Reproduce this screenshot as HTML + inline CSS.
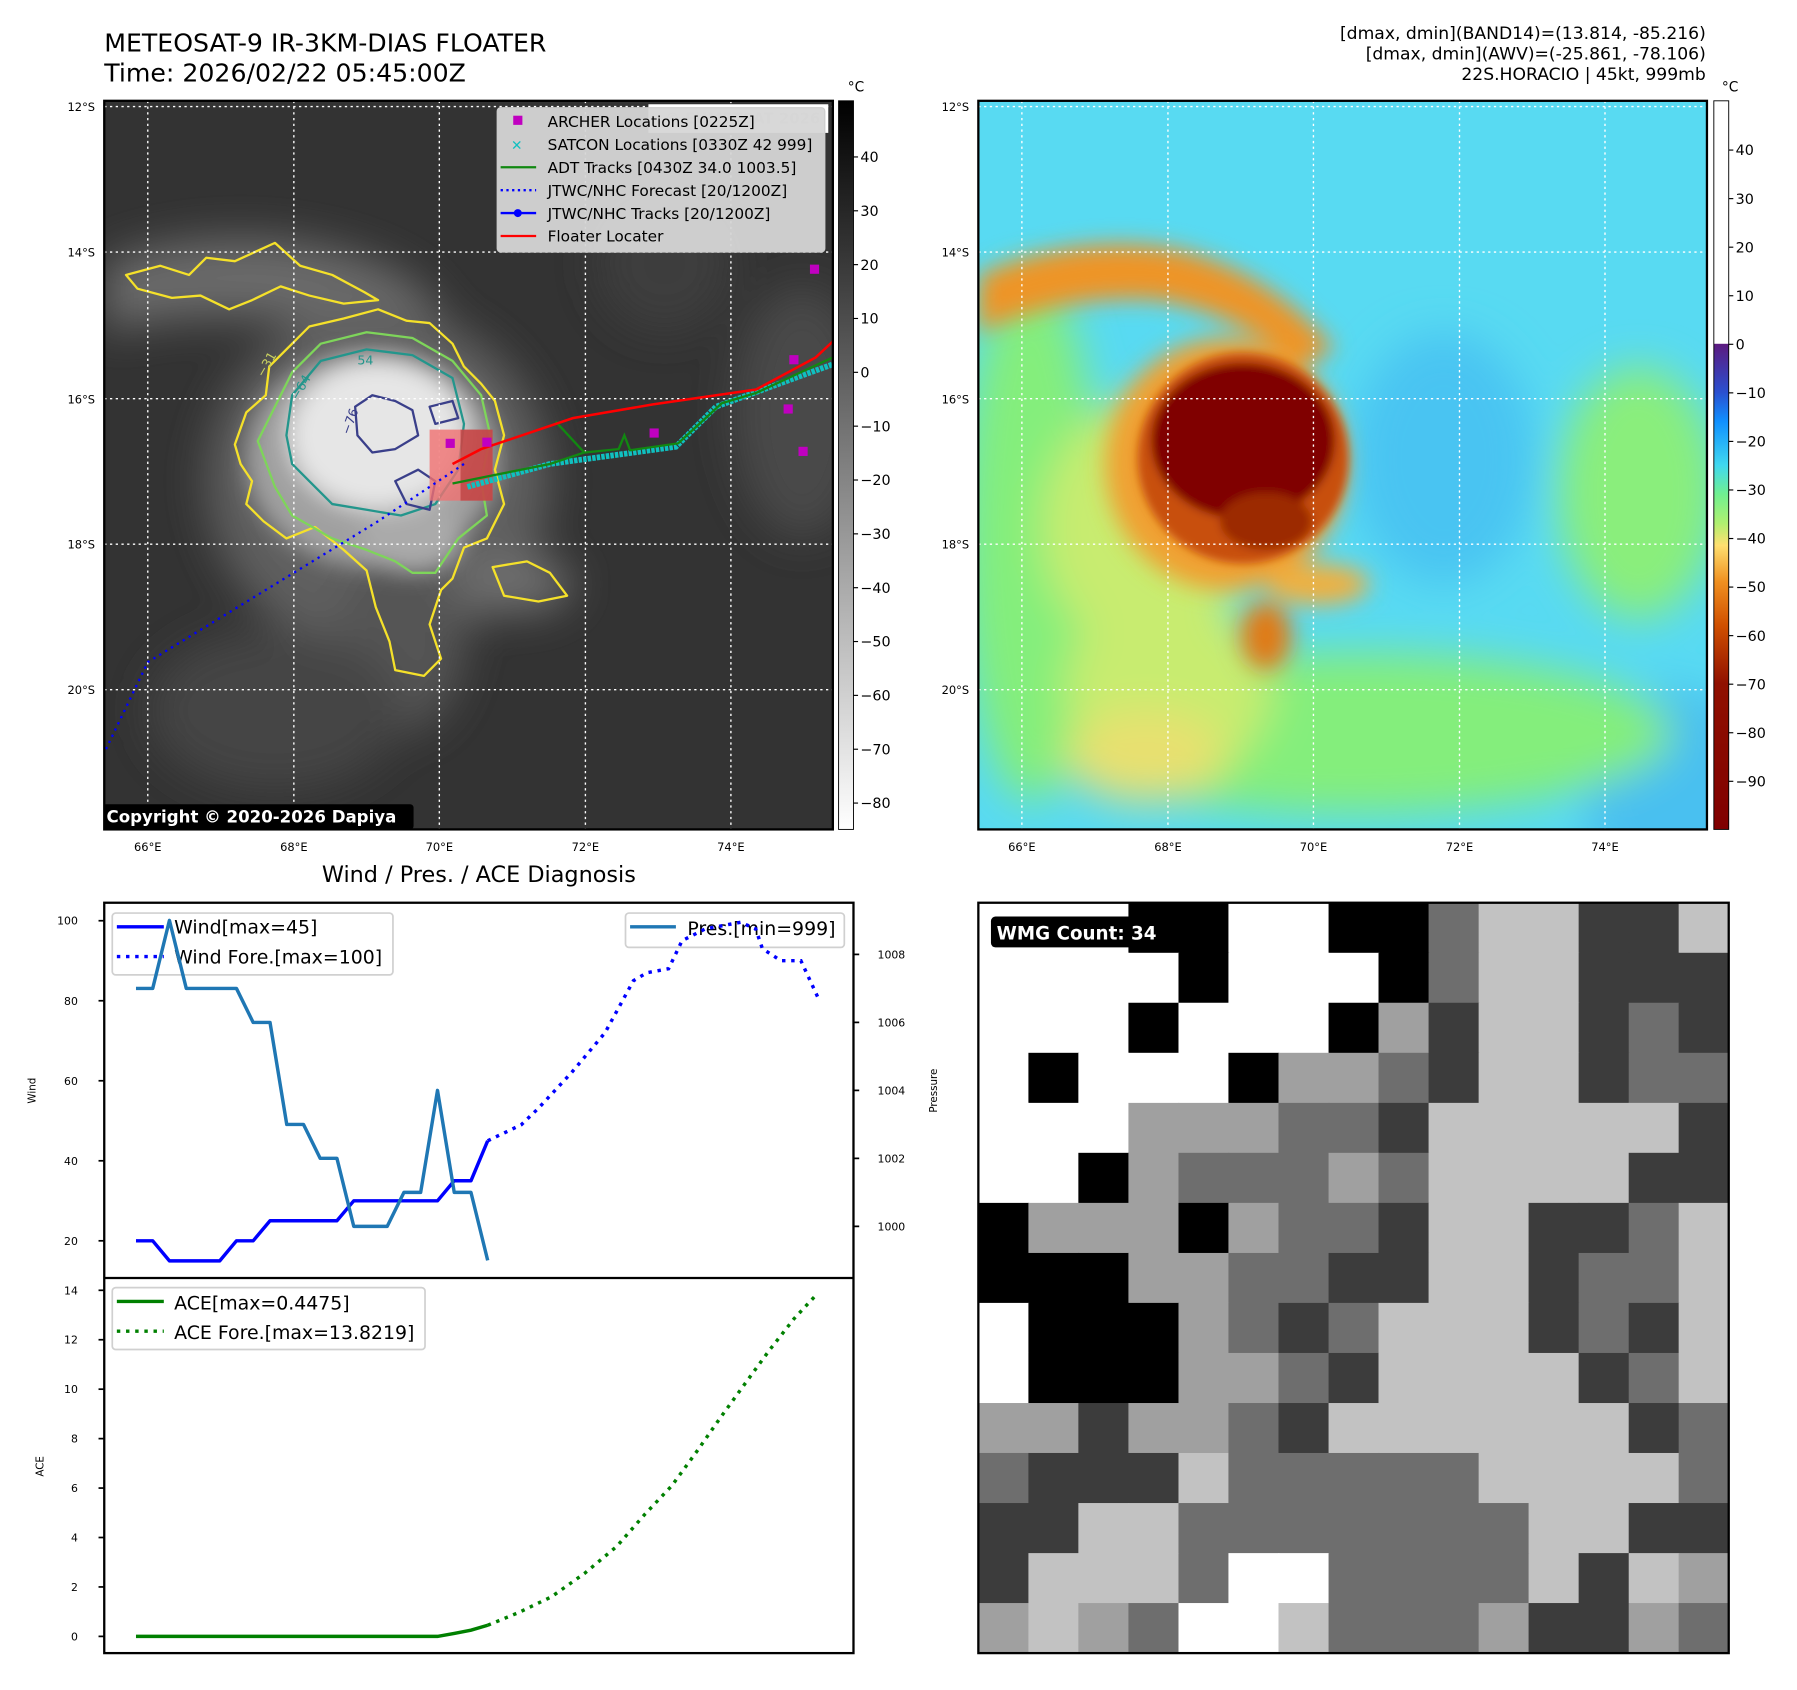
<!DOCTYPE html>
<html><head><meta charset="utf-8"><style>
html,body{margin:0;padding:0;background:#fff;}
svg{display:block;font-family:"DejaVu Sans","Liberation Sans",sans-serif;}
</style></head><body>
<svg id="root" width="1797" height="1690" viewBox="0 0 1568.6 1475.2" xmlns="http://www.w3.org/2000/svg">
<defs>
<filter id="b4"><feGaussianBlur stdDeviation="4"/></filter>
<filter id="b10"><feGaussianBlur stdDeviation="10"/></filter>
<filter id="b18"><feGaussianBlur stdDeviation="18"/></filter>
<clipPath id="c1"><rect x="91" y="88" width="636" height="636"/></clipPath>
<clipPath id="c2"><rect x="854" y="88" width="636" height="636"/></clipPath>
<clipPath id="c3"><rect x="854" y="788" width="655" height="655"/></clipPath>
<linearGradient id="gcb1" x1="0" y1="0" x2="0" y2="1"><stop offset="0" stop-color="#000"/><stop offset="1" stop-color="#fff"/></linearGradient>
<linearGradient id="gcb2" x1="0" y1="0" x2="0" y2="1">
<stop offset="0" stop-color="#fff"/><stop offset="0.333" stop-color="#fff"/>
<stop offset="0.334" stop-color="#5c1a80"/><stop offset="0.40" stop-color="#2a50d0"/>
<stop offset="0.44" stop-color="#1090ff"/><stop offset="0.50" stop-color="#40d8f0"/>
<stop offset="0.54" stop-color="#70f090"/><stop offset="0.58" stop-color="#b0f070"/>
<stop offset="0.61" stop-color="#ffe070"/><stop offset="0.66" stop-color="#f09020"/>
<stop offset="0.72" stop-color="#d05000"/><stop offset="0.80" stop-color="#901000"/>
<stop offset="1" stop-color="#800000"/></linearGradient>
</defs>

<!-- titles -->
<text x="91" y="45" font-size="22">METEOSAT-9 IR-3KM-DIAS FLOATER</text>
<text x="91" y="71" font-size="22">Time: 2026/02/22 05:45:00Z</text>
<g font-size="15" text-anchor="end">
<text x="1489" y="34">[dmax, dmin](BAND14)=(13.814, -85.216)</text>
<text x="1489" y="52">[dmax, dmin](AWV)=(-25.861, -78.106)</text>
<text x="1489" y="70">22S.HORACIO | 45kt, 999mb</text>
</g>

<!-- LEFT MAP -->
<g clip-path="url(#c1)">
<rect x="91" y="88" width="636" height="636" fill="#333"/>
<g filter="url(#b18)">
<path d="M91,230 C160,200 260,200 330,230 C380,250 400,290 380,300 C300,290 200,260 91,290Z" fill="#6a6a6a"/>
<ellipse cx="330" cy="420" rx="150" ry="150" fill="#5e5e5e"/>
<ellipse cx="350" cy="560" rx="55" ry="80" fill="#555"/>
<ellipse cx="450" cy="510" rx="50" ry="25" fill="#707070"/>
<ellipse cx="700" cy="360" rx="60" ry="110" fill="#4a4a4a"/>
<ellipse cx="240" cy="620" rx="110" ry="70" fill="#444"/>
<ellipse cx="580" cy="230" rx="60" ry="60" fill="#3c3c3c"/>
</g>
<g filter="url(#b10)">
<ellipse cx="325" cy="400" rx="110" ry="95" fill="#a0a0a0"/>
<ellipse cx="330" cy="380" rx="78" ry="65" fill="#e6e6e6"/>
<ellipse cx="360" cy="470" rx="45" ry="30" fill="#aaa"/>
</g>
<g fill="none" stroke-width="2" stroke-linejoin="round">
<path stroke="#f5e12a" d="M205,388 L215,360 L232,345 L235,320 L255,300 L270,285 L300,278 L330,270 L355,280 L375,282 L395,300 L405,320 L420,335 L432,350 L440,380 L432,410 L440,440 L425,470 L405,478 L395,505 L385,515 L375,545 L385,575 L370,590 L345,585 L340,560 L328,530 L320,498 L300,480 L275,460 L250,470 L230,455 L215,440 L220,420 L210,405Z"/>
<path stroke="#f5e12a" d="M110,240 L140,232 L165,240 L180,225 L205,228 L240,212 L262,232 L290,240 L318,255 L330,262 L300,265 L270,258 L245,250 L220,262 L200,270 L175,258 L150,260 L120,252Z"/>
<path stroke="#f5e12a" d="M430,495 L460,490 L480,500 L495,520 L470,525 L440,520Z"/>
<path stroke="#7ed55a" d="M225,385 L240,355 L255,325 L280,300 L320,290 L360,295 L395,315 L420,345 L428,380 L420,420 L425,450 L400,470 L380,500 L360,500 L345,490 L320,480 L290,470 L255,450 L240,425Z"/>
<path stroke="#23968c" d="M250,380 L255,345 L280,315 L320,305 L360,310 L395,330 L405,370 L400,410 L380,440 L350,450 L320,445 L290,440 L270,420 L255,405Z"/>
<path stroke="#3a3f8a" d="M310,355 L325,345 L345,350 L360,358 L365,380 L345,392 L325,395 L312,380Z"/>
<path stroke="#3a3f8a" d="M375,355 L395,350 L400,365 L380,370Z"/>
<path stroke="#3a3f8a" d="M345,420 L365,410 L380,420 L375,445 L355,440Z"/>
</g>
<g font-size="11" fill="#c8d060"><text x="230" y="330" transform="rotate(-60 230 330)">−31</text><text x="260" y="350" fill="#23968c" transform="rotate(-60 260 350)">−64</text><text x="305" y="380" fill="#3a3f8a" transform="rotate(-70 305 380)">−76</text><text x="312" y="318" fill="#23968c">54</text></g>
<g stroke="#fff" stroke-width="1.2" stroke-dasharray="2,3">
<line x1="129" y1="88" x2="129" y2="724"/><line x1="256.5" y1="88" x2="256.5" y2="724"/><line x1="383.5" y1="88" x2="383.5" y2="724"/><line x1="511" y1="88" x2="511" y2="724"/><line x1="638" y1="88" x2="638" y2="724"/>
<line x1="91" y1="93" x2="727" y2="93"/><line x1="91" y1="220" x2="727" y2="220"/><line x1="91" y1="348" x2="727" y2="348"/><line x1="91" y1="475" x2="727" y2="475"/><line x1="91" y1="602" x2="727" y2="602"/>
</g>
<rect x="375" y="375" width="55" height="62" fill="#f07070" opacity="0.8"/>
<rect x="402" y="375" width="28" height="62" fill="#b03030" opacity="0.6"/>
<polyline points="405,405 330,455 129,578 91,657" fill="none" stroke="#0000ff" stroke-width="2" stroke-dasharray="2,4"/>
<polyline points="408,425 480,405 590,390 625,355 727,318" fill="none" stroke="#10c0c0" stroke-width="5" stroke-dasharray="3,1"/>
<polyline points="395,422 430,415 480,405 510,395 485,368 510,395 540,392 545,380 550,393 592,387 630,352 660,343 727,312" fill="none" stroke="#118811" stroke-width="2"/>
<polyline points="395,405 420,392 500,365 570,353 660,340 712,312 727,298" fill="none" stroke="#ff0000" stroke-width="2.2"/>
<g fill="#c000c0">
<rect x="389" y="383" width="8" height="8"/><rect x="421" y="382" width="8" height="8"/><rect x="567" y="374" width="8" height="8"/><rect x="684" y="353" width="8" height="8"/><rect x="689" y="310" width="8" height="8"/><rect x="697" y="390" width="8" height="8"/><rect x="707" y="231" width="8" height="8"/>
</g>
<rect x="566" y="91" width="157" height="25" fill="#fff"/>
<text x="716" y="108" font-size="13" font-weight="bold" fill="#d8d8d8" text-anchor="end">© EUMETSAT 2026</text>
<g>
<rect x="434" y="94" width="286" height="126" rx="3" fill="#d6d6d6" fill-opacity="0.95" stroke="#ccc"/>
<g font-size="13.4">
<rect x="448" y="101" width="8" height="8" fill="#c000c0"/><text x="478" y="111">ARCHER Locations [0225Z]</text>
<text x="446" y="131" fill="#10c0c0" font-weight="bold" font-size="12">✕</text><text x="478" y="131">SATCON Locations [0330Z 42 999]</text>
<line x1="437" y1="146" x2="468" y2="146" stroke="#118811" stroke-width="2"/><text x="478" y="151">ADT Tracks [0430Z 34.0 1003.5]</text>
<line x1="437" y1="166" x2="468" y2="166" stroke="#0000ff" stroke-width="2" stroke-dasharray="2,3"/><text x="478" y="171">JTWC/NHC Forecast [20/1200Z]</text>
<line x1="437" y1="186" x2="468" y2="186" stroke="#0000ff" stroke-width="2"/><circle cx="452" cy="186" r="3.5" fill="#0000ff"/><text x="478" y="191">JTWC/NHC Tracks [20/1200Z]</text>
<line x1="437" y1="206" x2="468" y2="206" stroke="#ff0000" stroke-width="2"/><text x="478" y="211">Floater Locater</text>
</g></g>
<rect x="89" y="702" width="272" height="22" rx="3" fill="#000"/>
<text x="93" y="718" font-size="14.5" font-weight="bold" fill="#fff">Copyright © 2020-2026 Dapiya</text>
</g>
<rect x="91" y="88" width="636" height="636" fill="none" stroke="#000" stroke-width="2"/>
<g font-size="10" text-anchor="end">
<text x="83" y="97">12°S</text><text x="83" y="224">14°S</text><text x="83" y="352">16°S</text><text x="83" y="479">18°S</text><text x="83" y="606">20°S</text></g>
<g font-size="10" text-anchor="middle">
<text x="129" y="743">66°E</text><text x="256.5" y="743">68°E</text><text x="383.5" y="743">70°E</text><text x="511" y="743">72°E</text><text x="638" y="743">74°E</text></g>
<rect x="732" y="88" width="13" height="636" fill="url(#gcb1)" stroke="#000" stroke-width="0.8"/>
<text x="740" y="80" font-size="12">°C</text>
<g id="cb1ticks" font-size="12.5"></g>

<!-- RIGHT MAP -->
<g clip-path="url(#c2)">
<rect x="854" y="88" width="636" height="636" fill="#58daf2"/>
<g filter="url(#b18)">
<ellipse cx="1260" cy="400" rx="80" ry="110" fill="#48c4f2"/>
<ellipse cx="1460" cy="690" rx="80" ry="90" fill="#48c0f0"/>
<ellipse cx="900" cy="470" rx="60" ry="230" fill="#84ee7c"/>
<ellipse cx="1180" cy="640" rx="280" ry="70" fill="#84ee7c"/>
<ellipse cx="1430" cy="430" rx="70" ry="110" fill="#8aee7c"/>
<ellipse cx="1020" cy="600" rx="90" ry="80" fill="#c8ec70"/>
<ellipse cx="1000" cy="660" rx="70" ry="40" fill="#e8e070"/>
<ellipse cx="1000" cy="460" rx="90" ry="110" fill="#c8ec70"/>
</g>
<g filter="url(#b10)">
<path d="M854,240 C900,220 960,205 1030,218 C1085,232 1130,262 1165,305 L1135,320 C1100,290 1060,270 1010,262 C950,258 900,270 854,290Z" fill="#ee9428"/>
<ellipse cx="1070" cy="405" rx="105" ry="110" fill="#f0a030"/>
<ellipse cx="1105" cy="555" rx="22" ry="30" fill="#e07a18"/>
<ellipse cx="1150" cy="510" rx="45" ry="18" fill="#f0b040"/>
</g>
<g filter="url(#b4)">
<ellipse cx="1085" cy="400" rx="92" ry="92" fill="#c85010"/>
<ellipse cx="1085" cy="385" rx="80" ry="68" fill="#800000"/>
<ellipse cx="1105" cy="455" rx="40" ry="25" fill="#9c2a00"/>
</g>
<g stroke="#fff" stroke-width="1.2" stroke-dasharray="2,3">
<line x1="892" y1="88" x2="892" y2="724"/><line x1="1019.5" y1="88" x2="1019.5" y2="724"/><line x1="1146.5" y1="88" x2="1146.5" y2="724"/><line x1="1274" y1="88" x2="1274" y2="724"/><line x1="1401" y1="88" x2="1401" y2="724"/>
<line x1="854" y1="93" x2="1490" y2="93"/><line x1="854" y1="220" x2="1490" y2="220"/><line x1="854" y1="348" x2="1490" y2="348"/><line x1="854" y1="475" x2="1490" y2="475"/><line x1="854" y1="602" x2="1490" y2="602"/>
</g>
</g>
<rect x="854" y="88" width="636" height="636" fill="none" stroke="#000" stroke-width="2"/>
<g font-size="10" text-anchor="end">
<text x="846" y="97">12°S</text><text x="846" y="224">14°S</text><text x="846" y="352">16°S</text><text x="846" y="479">18°S</text><text x="846" y="606">20°S</text></g>
<g font-size="10" text-anchor="middle">
<text x="892" y="743">66°E</text><text x="1019.5" y="743">68°E</text><text x="1146.5" y="743">70°E</text><text x="1274" y="743">72°E</text><text x="1401" y="743">74°E</text></g>
<rect x="1496" y="88" width="13" height="636" fill="url(#gcb2)" stroke="#000" stroke-width="0.8"/>
<text x="1503" y="80" font-size="12">°C</text>
<g id="cb2ticks" font-size="12.5"></g>

<!-- WMG -->
<g id="wmg" clip-path="url(#c3)"></g>
<rect x="854" y="788" width="655" height="655" fill="none" stroke="#000" stroke-width="2"/>
<rect x="865" y="800" width="166" height="27" rx="4" fill="#000"/>
<text x="870" y="820" font-size="16" font-weight="bold" fill="#fff">WMG Count: 34</text>

<!-- LOWER CHART -->
<text x="418" y="770" font-size="19.5" text-anchor="middle">Wind / Pres. / ACE Diagnosis</text>
<g id="chart"></g>
</svg>
<script>
// ---- chart data ----
const windIdx=[0,1,2,3,4,5,6,7,8,9,10,11,12,13,14,15,16,17,18,19,20,21];
const windVals=[20,20,15,15,15,15,20,20,25,25,25,25,25,30,30,30,30,30,30,35,35,45];
const windForeIdx=[21,23,24,26,28,29.7,30.5,31.8,32.6,34,36.1,37,37.4,38.5,39.7,40.7];
const windForeVals=[45,49,53,62,72,85,87,88,95,98,99.6,98,93,90,90,81];
const presVals=[1007,1007,1009,1007,1007,1007,1007,1006,1006,1003,1003,1002,1002,1000,1000,1000,1001,1001,1004,1001,1001,999];
const aceVals=[0,0,0,0,0,0,0,0,0,0,0,0,0,0,0,0,0,0,0,0.12,0.25,0.45];
const aceForeIdx=[21,22.8,24.8,26.8,28.7,30.4,32,33.5,34.9,36.4,37.8,39.3,40.5];
const aceForeVals=[0.45,0.95,1.6,2.56,3.64,4.95,6.1,7.5,8.85,10.26,11.56,12.86,13.73];
const windTicks=[20,40,60,80,100];
const presTicks=[1000,1002,1004,1006,1008];
const aceTicks=[0,2,4,6,8,10,12,14];
const cb1Ticks=[40,30,20,10,0,-10,-20,-30,-40,-50,-60,-70,-80];
const cb2Ticks=[40,30,20,10,0,-10,-20,-30,-40,-50,-60,-70,-80,-90];
const wmgRows=["WWWKKWWKKMLLDDL","WWWWKWWWKMLLDDD","WWWKWWWKGDLLDMD","WKWWWKGGMDLLDMM","WWWGGGMMDLLLLLD","WWKGMMMGMLLLLDD","KGGGKGMMDLLDDML","KKKGGMMDDLLDMML","WKKKGMDMLLLDMDL","WKKKGGMDLLLLDML","GGDGGMDLLLLLLDM","MDDDLMMMMMLLLLM","DDLLMMMMMMMLLDD","DLLLMWWMMMMLDLG","GLGMWWLMMMGDDGM"];

const NS='http://www.w3.org/2000/svg';
function mk(tag,attrs,parent){const e=document.createElementNS(NS,tag);for(const k in attrs)e.setAttribute(k,attrs[k]);parent.appendChild(e);return e;}
const chart=document.getElementById('chart');
const X0=91,X1=745,T=788,MID=1115.6,B=1443;
const xI=i=>118.7+i*14.62;
const yW=v=>1083.1-(v-20)*(1083.1-803.7)/80;
const yP=p=>1070.5-(p-1000)*(1070.5-833.1)/8;
const yA=a=>1428.4-a*(1428.4-1126.3)/14;
function pts(xs,ys,fy){return xs.map((x,i)=>xI(x).toFixed(1)+','+fy(ys[i]).toFixed(1)).join(' ');}

mk('rect',{x:X0,y:T,width:X1-X0,height:B-T,fill:'#fff',stroke:'#000','stroke-width':2},chart);
mk('line',{x1:X0,y1:MID,x2:X1,y2:MID,stroke:'#000','stroke-width':2},chart);
windTicks.forEach(v=>{const y=yW(v);mk('line',{x1:X0-5,y1:y,x2:X0,y2:y,stroke:'#000','stroke-width':1.5},chart);const t=mk('text',{x:X0-23,y:y+3.5,'font-size':9.5,'text-anchor':'end'},chart);t.textContent=v;});
presTicks.forEach(v=>{const y=yP(v);mk('line',{x1:X1,y1:y,x2:X1+5,y2:y,stroke:'#000','stroke-width':1.5},chart);const t=mk('text',{x:766,y:y+3.5,'font-size':9.5},chart);t.textContent=v;});
aceTicks.forEach(v=>{const y=yA(v);mk('line',{x1:X0-5,y1:y,x2:X0,y2:y,stroke:'#000','stroke-width':1.5},chart);const t=mk('text',{x:X0-23,y:y+3.5,'font-size':9.5,'text-anchor':'end'},chart);t.textContent=v;});
let t;
t=mk('text',{x:31,y:952,'font-size':9,'text-anchor':'middle',transform:'rotate(-90 31 952)'},chart);t.textContent='Wind';
t=mk('text',{x:818,y:952,'font-size':9,'text-anchor':'middle',transform:'rotate(-90 818 952)'},chart);t.textContent='Pressure';
t=mk('text',{x:38,y:1280,'font-size':9,'text-anchor':'middle',transform:'rotate(-90 38 1280)'},chart);t.textContent='ACE';

const lg1=mk('g',{},chart);


mk('rect',{x:98,y:797,width:245,height:54,rx:3,fill:'#fff',stroke:'#d0d0d0','stroke-width':1.5},lg1);
mk('line',{x1:102,y1:809,x2:143,y2:809,stroke:'#0000ff','stroke-width':3},lg1);
mk('line',{x1:102,y1:835,x2:143,y2:835,stroke:'#0000ff','stroke-width':3,'stroke-dasharray':'3,5'},lg1);
t=mk('text',{x:152,y:815,'font-size':16.5},lg1);t.textContent='Wind[max=45]';
t=mk('text',{x:152,y:841,'font-size':16.5},lg1);t.textContent='Wind Fore.[max=100]';
const lg2=mk('g',{},chart);


mk('rect',{x:546,y:797,width:191,height:30,rx:3,fill:'#fff',stroke:'#d0d0d0','stroke-width':1.5},lg2);
mk('line',{x1:550,y1:809,x2:590,y2:809,stroke:'#1f77b4','stroke-width':3},lg2);
t=mk('text',{x:600,y:816,'font-size':16.5},lg2);t.textContent='Pres.[min=999]';
const lg3=mk('g',{},chart);


mk('rect',{x:98,y:1124,width:273,height:54,rx:3,fill:'#fff',stroke:'#d0d0d0','stroke-width':1.5},lg3);
mk('line',{x1:102,y1:1136,x2:143,y2:1136,stroke:'#008000','stroke-width':3},lg3);
mk('line',{x1:102,y1:1162,x2:143,y2:1162,stroke:'#008000','stroke-width':3,'stroke-dasharray':'3,5'},lg3);
t=mk('text',{x:152,y:1143,'font-size':16.5},lg3);t.textContent='ACE[max=0.4475]';
t=mk('text',{x:152,y:1169,'font-size':16.5},lg3);t.textContent='ACE Fore.[max=13.8219]';

let p;
p=mk('polyline',{points:pts(windForeIdx,windForeVals,yW),fill:'none',stroke:'#0000ff','stroke-width':3,'stroke-dasharray':'3,5'},chart);

p=mk('polyline',{points:pts(windIdx,windVals,yW),fill:'none',stroke:'#0000ff','stroke-width':3,'stroke-linejoin':'round'},chart);

p=mk('polyline',{points:pts(windIdx,presVals,yP),fill:'none',stroke:'#1f77b4','stroke-width':3,'stroke-linejoin':'round'},chart);

p=mk('polyline',{points:pts(aceForeIdx,aceForeVals,yA),fill:'none',stroke:'#008000','stroke-width':3,'stroke-dasharray':'3,5'},chart);

p=mk('polyline',{points:pts(windIdx,aceVals,yA),fill:'none',stroke:'#008000','stroke-width':3},chart);


const c1=document.getElementById('cb1ticks');
cb1Ticks.forEach(v=>{const y=137+(40-v)*(701-137)/120;mk('line',{x1:745,y1:y,x2:749,y2:y,stroke:'#000'},c1);const e=mk('text',{x:751,y:y+4.5},c1);e.textContent=v<0?'\u2212'+(-v):v;});
const c2=document.getElementById('cb2ticks');
cb2Ticks.forEach(v=>{const y=131+(40-v)*(682-131)/130;mk('line',{x1:1509,y1:y,x2:1513,y2:y,stroke:'#000'},c2);const e=mk('text',{x:1515,y:y+4.5},c2);e.textContent=v<0?'\u2212'+(-v):v;});

const wmg=document.getElementById('wmg');
const col={W:'#ffffff',K:'#000000',D:'#3c3c3c',M:'#6e6e6e',G:'#a0a0a0',L:'#c2c2c2'};
const cs=655/15;
wmgRows.forEach((row,r)=>{for(let c=0;c<row.length;c++){const e=mk('rect',{x:(854+c*cs).toFixed(1),y:(788+r*cs).toFixed(1),width:(cs+0.6).toFixed(1),height:(cs+0.6).toFixed(1),fill:col[row[c]]},wmg);

}});
</script>
</body></html>
